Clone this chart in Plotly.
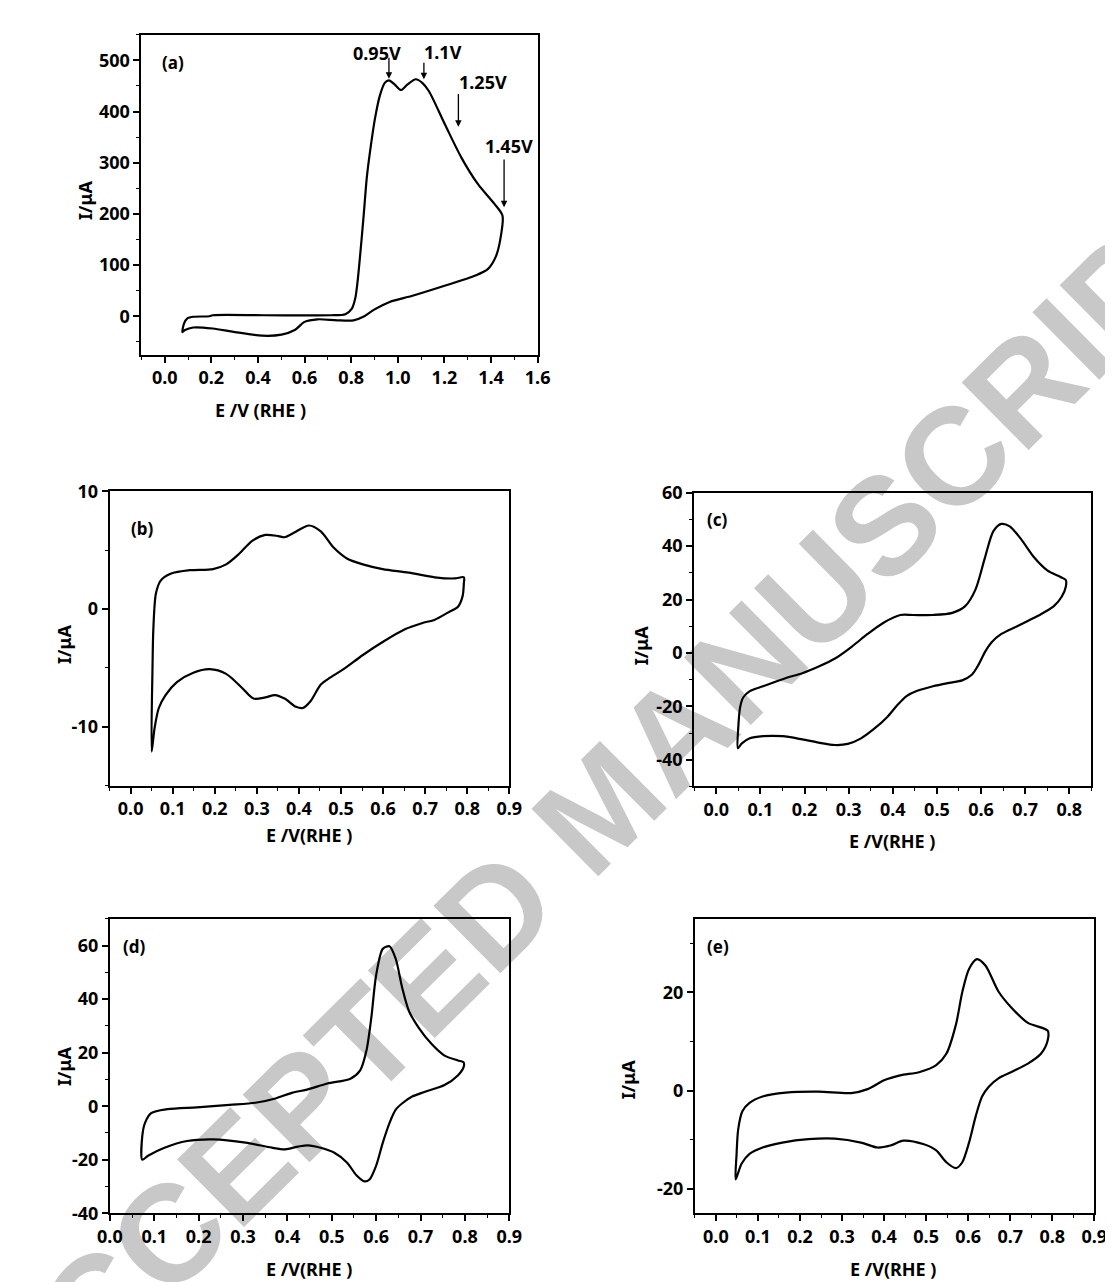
import plotly.graph_objects as go

W, H = 1113, 1282

# ---------------- data ----------------
a_E = [0.076, 0.083, 0.097, 0.122, 0.192, 0.206, 0.431, 0.712, 0.775, 0.803, 0.817, 0.827, 0.838, 0.853, 0.867,
       0.881, 0.902, 0.923, 0.944, 0.962, 0.986, 1.014, 1.042, 1.077, 1.105, 1.133, 1.204, 1.274, 1.344, 1.414,
       1.449, 1.442, 1.421, 1.386, 1.330, 1.204, 1.063, 0.965, 0.895, 0.852, 0.81, 0.74, 0.656, 0.6, 0.558,
       0.501, 0.417, 0.29, 0.206, 0.122, 0.087, 0.076]
a_I = [-31, -14, -4, -1, 0, 2, 2, 2, 4, 15, 34, 66, 117, 194, 271, 322, 386, 431, 456, 461, 453, 442, 453, 463,
       456, 440, 373, 309, 258, 220, 197, 156, 117, 92, 79, 60, 40, 28, 12, -1, -8, -8, -6, -11, -27, -36, -38,
       -30, -24, -22, -27, -31]

b_E = [0.05, 0.052, 0.054, 0.06, 0.071, 0.095, 0.141, 0.196, 0.227, 0.258, 0.289, 0.32, 0.351, 0.366, 0.389,
       0.424, 0.452, 0.483, 0.514, 0.552, 0.599, 0.661, 0.723, 0.770, 0.792, 0.792, 0.789, 0.778, 0.754, 0.723,
       0.692, 0.653, 0.599, 0.552, 0.506, 0.475, 0.452, 0.428, 0.409, 0.393, 0.366, 0.343, 0.32, 0.292, 0.265,
       0.227, 0.188, 0.149, 0.11, 0.083, 0.067, 0.057, 0.05]
b_I = [-12.1, -5, -1.7, 1.3, 2.4, 3.0, 3.3, 3.4, 3.8, 4.7, 5.8, 6.3, 6.2, 6.1, 6.5, 7.1, 6.6, 5.2, 4.3, 3.8, 3.4,
       3.1, 2.7, 2.6, 2.7, 2.2, 1.1, 0.2, -0.3, -0.9, -1.2, -1.7, -2.8, -3.9, -5.1, -5.8, -6.4, -7.8, -8.4, -8.3,
       -7.6, -7.3, -7.5, -7.6, -6.7, -5.5, -5.1, -5.4, -6.2, -7.3, -8.4, -10.1, -12.1]

c_E = [0.049, 0.05, 0.054, 0.061, 0.076, 0.106, 0.158, 0.195, 0.232, 0.269, 0.306, 0.343, 0.38, 0.417, 0.446,
       0.491, 0.535, 0.564, 0.587, 0.609, 0.628, 0.646, 0.665, 0.691, 0.72, 0.75, 0.779, 0.792, 0.792, 0.783,
       0.765, 0.728, 0.683, 0.646, 0.624, 0.609, 0.594, 0.579, 0.557, 0.528, 0.491, 0.454, 0.432, 0.409, 0.387,
       0.358, 0.328, 0.298, 0.269, 0.232, 0.195, 0.15, 0.106, 0.076, 0.058, 0.049]
c_I = [-35.7, -27.7, -20.4, -16.7, -14.3, -12.5, -9.4, -7.6, -5.1, -2.1, 2.2, 7.1, 11.4, 14.2, 14.2, 14.2, 15.0,
       17.5, 23.6, 35.8, 45.6, 48.3, 47.4, 42.5, 35.8, 30.9, 28.5, 27.3, 24.8, 21.1, 17.5, 13.8, 10.1, 7.1, 4.0,
       0.4, -4.5, -8.2, -10.3, -11.2, -12.5, -14.3, -16.1, -19.8, -24.1, -28.4, -32.0, -34.1, -34.5, -33.6,
       -32.4, -31.2, -31.2, -32.0, -33.9, -35.7]

d_E = [0.073, 0.073, 0.079, 0.093, 0.13, 0.196, 0.27, 0.328, 0.373, 0.41, 0.446, 0.49, 0.542, 0.564, 0.578,
       0.589, 0.6, 0.615, 0.63, 0.644, 0.659, 0.674, 0.696, 0.725, 0.754, 0.784, 0.797, 0.797, 0.784, 0.754,
       0.71, 0.681, 0.659, 0.644, 0.63, 0.615, 0.6, 0.585, 0.574, 0.556, 0.534, 0.505, 0.475, 0.446, 0.424,
       0.395, 0.365, 0.306, 0.233, 0.174, 0.123, 0.086, 0.073]
d_I = [-20, -11.2, -6.3, -2.6, -1.1, -0.4, 0.5, 1.3, 2.9, 5.0, 6.3, 8.5, 10.3, 13.4, 20.7, 33.0, 49.0, 58.8,
       59.8, 55.1, 44.0, 35.5, 29.3, 23.2, 18.9, 17.1, 16.4, 14.6, 11.5, 7.9, 5.4, 3.6, 1.1, -1.3, -6.3, -13.6,
       -22.2, -27.4, -28.1, -25.9, -21.0, -17.3, -15.5, -14.6, -15.1, -16.1, -15.5, -13.6, -12.4, -13.0, -15.5,
       -18.5, -20]

e_E = [0.047, 0.049, 0.053, 0.063, 0.08, 0.111, 0.166, 0.244, 0.322, 0.361, 0.4, 0.438, 0.485, 0.524, 0.548,
       0.571, 0.586, 0.602, 0.621, 0.641, 0.672, 0.703, 0.742, 0.789, 0.789, 0.773, 0.742, 0.703, 0.672, 0.649,
       0.633, 0.618, 0.602, 0.586, 0.571, 0.548, 0.524, 0.493, 0.446, 0.415, 0.384, 0.345, 0.283, 0.22, 0.158,
       0.111, 0.08, 0.061, 0.047]
e_I = [-18.1, -13.2, -7.9, -4.2, -2.5, -1.2, -0.4, -0.2, -0.5, 0.3, 2.1, 3.1, 3.8, 5.2, 7.5, 13.5, 20.1, 24.8,
       26.8, 25.5, 20.2, 16.9, 13.8, 12.2, 10.2, 7.5, 5.5, 3.8, 2.5, 0.8, -1.2, -5.2, -10.6, -14.6, -15.8, -14.6,
       -12.2, -10.9, -10.2, -11.2, -11.6, -10.6, -9.8, -9.9, -10.6, -11.6, -12.9, -14.9, -18.1]

# tick values / labels
a_xticks = [0.0, 0.2, 0.4, 0.6, 0.8, 1.0, 1.2, 1.4, 1.6]
a_xlabels = ["0.0", "0.2", "0.4", "0.6", "0.8", "1.0", "1.2", "1.4", "1.6"]
a_yticks = [0, 100, 200, 300, 400, 500]
a_ylabels = ["0", "100", "200", "300", "400", "500"]
x09_ticks = [0.0, 0.1, 0.2, 0.3, 0.4, 0.5, 0.6, 0.7, 0.8, 0.9]
x09_labels = ["0.0", "0.1", "0.2", "0.3", "0.4", "0.5", "0.6", "0.7", "0.8", "0.9"]
x08_ticks = x09_ticks[:-1]
x08_labels = x09_labels[:-1]
b_yticks = [-10, 0, 10]
b_ylabels = ["-10", "0", "10"]
c_yticks = [-40, -20, 0, 20, 40, 60]
c_ylabels = ["-40", "-20", "0", "20", "40", "60"]
d_yticks = [-40, -20, 0, 20, 40, 60]
d_ylabels = ["-40", "-20", "0", "20", "40", "60"]
e_yticks = [-20, 0, 20]
e_ylabels = ["-20", "0", "20"]

# peak annotations in panel (a)
peak_labels = ["0.95V", "1.1V", "1.25V", "1.45V"]
peak_label_E = [0.911, 1.194, 1.367, 1.476]
peak_label_I = [515, 517, 458, 333]
arrow_E = [0.962, 1.112, 1.26, 1.456]
arrow_tail_I = [508, 498, 437, 309]
arrow_head_I = [464, 463, 370, 213]


def px(x):
    return x / W


def py(y):
    return 1 - y / H


FONT = "Noto Sans"
tickfont = dict(family=FONT, size=18, color="black", weight="bold")

panels = [
    # name, E, I, xdomain(px), ydomain(px), xrange, yrange, xticks, xlabels, yticks, ylabels, xminor, yminor
    ("", a_E, a_I, (123.3, 529), (14, 340), [-0.1, 1.6], [-75, 550], a_xticks, a_xlabels, a_yticks, a_ylabels, 0.1, 50),
    ("2", b_E, b_I, (90.7, 500), (479.3, 779.3), [-0.05, 0.9], [-15, 10], x09_ticks, x09_labels, b_yticks, b_ylabels, 0.05, 5),
    ("3", c_E, c_I, (689.3, 1096), (480.7, 780), [-0.05, 0.85], [-50, 60], x08_ticks, x08_labels, c_yticks, c_ylabels, 0.05, 10),
    ("4", d_E, d_I, (91, 500), (915, 1215), [0.0, 0.9], [-40, 70], x09_ticks, x09_labels, d_yticks, d_ylabels, 0.05, 10),
    ("5", e_E, e_I, (690, 1099), (915, 1215), [-0.05, 0.9], [-25, 35], x09_ticks, x09_labels, e_yticks, e_ylabels, 0.05, 10),
]

fig = go.Figure()
layout = dict(
    width=W, height=H, margin=dict(l=0, r=0, t=0, b=0),
    paper_bgcolor="white", plot_bgcolor="rgba(0,0,0,0)", showlegend=False,
)

for (n, E, I, xd, yd, xr, yr, xt, xl, yt, yl, xm, ym) in panels:
    fig.add_trace(go.Scatter(x=E, y=I, mode="lines", xaxis="x" + n, yaxis="y" + n,
                             line=dict(color="black", width=2.2, shape="spline", smoothing=0.8),
                             hoverinfo="skip"))
    common = dict(showgrid=False, zeroline=False, showline=True, linecolor="black", linewidth=2,
                  mirror=True, ticks="outside", ticklen=6, tickwidth=1.5, tickcolor="black",
                  tickfont=tickfont, tickmode="array")
    layout["xaxis" + n] = dict(common, domain=[px(xd[0]), px(xd[1])], range=xr, anchor="y" + n,
                               tickvals=xt, ticktext=xl,
                               minor=dict(ticks="outside", ticklen=3, tickwidth=1.2, tickcolor="black",
                                          tickmode="linear", tick0=0, dtick=xm))
    layout["yaxis" + n] = dict(common, domain=[py(yd[1]), py(yd[0])], range=yr, anchor="x" + n,
                               tickvals=yt, ticktext=yl,
                               minor=dict(ticks="outside", ticklen=3, tickwidth=1.2, tickcolor="black",
                                          tickmode="linear", tick0=0, dtick=ym))

annotations = []
titlefont = dict(family=FONT, size=18, color="black", weight="bold")

# x titles
for (cx, cy, txt) in [(245, 396, "E /V (RHE )"), (295, 830, "E /V(RHE )"), (892, 836, "E /V(RHE )"),
                      (295, 1272, "E /V(RHE )"), (893, 1272, "E /V(RHE )")]:
    annotations.append(dict(x=px(cx), y=py(cy), xref="paper", yref="paper", text=txt, showarrow=False,
                            font=titlefont, xanchor="center", yanchor="middle"))
# y titles
for (cx, cy) in [(65, 182), (44, 635), (635, 636), (44, 1065), (621, 1078)]:
    annotations.append(dict(x=px(cx), y=py(cy), xref="paper", yref="paper", text="I/μA", showarrow=False,
                            font=titlefont, textangle=-90, xanchor="center", yanchor="middle"))
# panel letters
for (cx, cy, txt) in [(156, 42, "(a)"), (124, 517, "(b)"), (713, 508, "(c)"), (116, 943, "(d)"), (714, 943, "(e)")]:
    annotations.append(dict(x=px(cx), y=py(cy), xref="paper", yref="paper", text=txt, showarrow=False,
                            font=dict(family=FONT, size=17, color="black", weight="bold"),
                            xanchor="center", yanchor="middle"))
# peak labels + arrows in panel (a)
for t, tx, ty, ax_, at, ah in zip(peak_labels, peak_label_E, peak_label_I, arrow_E, arrow_tail_I, arrow_head_I):
    annotations.append(dict(x=tx, y=ty, xref="x", yref="y", text=t, showarrow=False,
                            font=dict(family=FONT, size=18, color="black", weight="bold"),
                            xanchor="center", yanchor="middle"))
    annotations.append(dict(x=ax_, y=ah, ax=ax_, ay=at, xref="x", yref="y", axref="x", ayref="y",
                            text="", showarrow=True, arrowhead=2, arrowsize=1, arrowwidth=1.3,
                            arrowcolor="black", standoff=0, startstandoff=0))

layout["annotations"] = annotations

# watermark (drawn beneath the curves)
layout["shapes"] = [dict(type="line", xref="paper", yref="paper", layer="below",
                         x0=px(229), y0=py(1141), x1=px(941), y1=py(439),
                         line=dict(width=0, color="rgba(0,0,0,0)"),
                         label=dict(text="ACCEPTED MANUSCRIPT", textposition="middle", yanchor="middle",
                                    font=dict(family="Liberation Sans", size=138, color="#c8c8c8",
                                              weight="bold")))]

fig.update_layout(**layout)
fig.write_html("out.html")
